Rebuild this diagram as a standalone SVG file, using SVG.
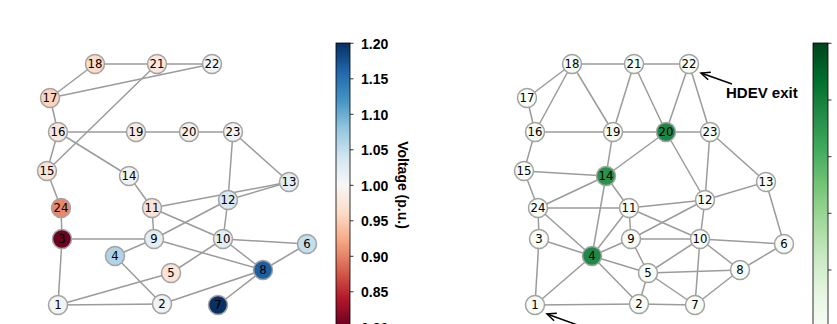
<svg xmlns="http://www.w3.org/2000/svg" width="837" height="324" viewBox="0 0 837 324">
<style>
.e{stroke:#9b9b9b;stroke-width:1.5;fill:none}
.n circle{stroke:#a3a3a3;stroke-width:1.5}
.n text{font-family:"DejaVu Sans",sans-serif;font-size:11.7px;text-anchor:middle;fill:#000}
.g circle{fill:#f7fcf5}
.tk{stroke:#000;stroke-width:0.8}
.tl{font-family:"Liberation Sans",Arial,sans-serif;font-weight:bold;font-size:14px;fill:#000}
.an{font-family:"Liberation Sans",Arial,sans-serif;font-weight:bold;font-size:15px;fill:#000}
.ar{stroke:#000;stroke-width:1.5;fill:none}
</style>
<defs>
<linearGradient id="rdbu" x1="0" y1="1" x2="0" y2="0">
<stop offset="0" stop-color="#67001f"/><stop offset="0.1" stop-color="#b2182b"/><stop offset="0.2" stop-color="#d6604d"/><stop offset="0.3" stop-color="#f4a582"/><stop offset="0.4" stop-color="#fddbc7"/><stop offset="0.5" stop-color="#f7f7f7"/><stop offset="0.6" stop-color="#d1e5f0"/><stop offset="0.7" stop-color="#92c5de"/><stop offset="0.8" stop-color="#4393c3"/><stop offset="0.9" stop-color="#2166ac"/><stop offset="1" stop-color="#053061"/>
</linearGradient>
<linearGradient id="greens" x1="0" y1="1" x2="0" y2="0">
<stop offset="0" stop-color="#f7fcf5"/><stop offset="0.125" stop-color="#e5f5e0"/><stop offset="0.25" stop-color="#c7e9c0"/><stop offset="0.375" stop-color="#a1d99b"/><stop offset="0.5" stop-color="#74c476"/><stop offset="0.625" stop-color="#41ab5d"/><stop offset="0.75" stop-color="#238b45"/><stop offset="0.875" stop-color="#006d2c"/><stop offset="1" stop-color="#00441b"/>
</linearGradient>
<marker id="ah" markerWidth="12" markerHeight="12" refX="0" refY="0" viewBox="-10 -6 12 12" orient="auto" markerUnits="userSpaceOnUse">
<path d="M-9,-4 L0,0 L-9,4" fill="none" stroke="#000" stroke-width="1.5"/>
</marker>
</defs>
<rect width="837" height="324" fill="#fff"/>

<!-- Left panel: voltage -->
<g id="left-edges">
<line class="e" x1="95" y1="64" x2="157" y2="64"/>
<line class="e" x1="157" y1="64" x2="212" y2="64"/>
<line class="e" x1="95" y1="64" x2="50" y2="98"/>
<line class="e" x1="50" y1="98" x2="212" y2="64"/>
<line class="e" x1="50" y1="98" x2="58" y2="132"/>
<line class="e" x1="157" y1="64" x2="47" y2="171"/>
<line class="e" x1="58" y1="132" x2="136" y2="132"/>
<line class="e" x1="136" y1="132" x2="189" y2="132"/>
<line class="e" x1="189" y1="132" x2="233" y2="132"/>
<line class="e" x1="58" y1="132" x2="47" y2="171"/>
<line class="e" x1="58" y1="132" x2="129" y2="176"/>
<line class="e" x1="233" y1="132" x2="228" y2="200"/>
<line class="e" x1="233" y1="132" x2="289" y2="182"/>
<line class="e" x1="47" y1="171" x2="61" y2="208"/>
<line class="e" x1="61" y1="208" x2="62" y2="239"/>
<line class="e" x1="129" y1="176" x2="152" y2="208"/>
<line class="e" x1="152" y1="208" x2="289" y2="182"/>
<line class="e" x1="228" y1="200" x2="289" y2="182"/>
<line class="e" x1="152" y1="208" x2="154" y2="239"/>
<line class="e" x1="152" y1="208" x2="223" y2="239"/>
<line class="e" x1="228" y1="200" x2="223" y2="239"/>
<line class="e" x1="228" y1="200" x2="154" y2="239"/>
<line class="e" x1="62" y1="239" x2="154" y2="239"/>
<line class="e" x1="154" y1="239" x2="115" y2="256"/>
<line class="e" x1="154" y1="239" x2="263" y2="270"/>
<line class="e" x1="223" y1="239" x2="307" y2="244"/>
<line class="e" x1="223" y1="239" x2="263" y2="270"/>
<line class="e" x1="223" y1="239" x2="171" y2="273"/>
<line class="e" x1="307" y1="244" x2="263" y2="270"/>
<line class="e" x1="115" y1="256" x2="162" y2="304"/>
<line class="e" x1="58" y1="305" x2="62" y2="239"/>
<line class="e" x1="58" y1="305" x2="171" y2="273"/>
<line class="e" x1="58" y1="305" x2="162" y2="304"/>
<line class="e" x1="162" y1="304" x2="263" y2="270"/>
<line class="e" x1="263" y1="270" x2="218" y2="305"/>
</g>
<g id="L1" class="n"><circle cx="58" cy="305" r="9.5" fill="#f4f4f4"/><text x="58" y="309.2">1</text></g>
<g id="L2" class="n"><circle cx="162" cy="304" r="9.5" fill="#f0f2f3"/><text x="162" y="308.2">2</text></g>
<g id="L3" class="n"><circle cx="62" cy="239" r="9.5" fill="#6a0220"/><text x="62" y="243.2">3</text></g>
<g id="L4" class="n"><circle cx="115" cy="256" r="9.5" fill="#b0d3e6"/><text x="115" y="260.2">4</text></g>
<g id="L5" class="n"><circle cx="171" cy="273" r="9.5" fill="#fae4d8"/><text x="171" y="277.2">5</text></g>
<g id="L6" class="n"><circle cx="307" cy="244" r="9.5" fill="#c4dfec"/><text x="307" y="248.2">6</text></g>
<g id="L7" class="n"><circle cx="218" cy="305" r="9.5" fill="#092f63"/><text x="218" y="309.2">7</text></g>
<g id="L8" class="n"><circle cx="263" cy="270" r="9.5" fill="#1d5fa3"/><text x="263" y="274.2">8</text></g>
<g id="L9" class="n"><circle cx="154" cy="239" r="9.5" fill="#e4edf3"/><text x="154" y="243.2">9</text></g>
<g id="L10" class="n"><circle cx="223" cy="239" r="9.5" fill="#e2ecf3"/><text x="223" y="243.2">10</text></g>
<g id="L11" class="n"><circle cx="152" cy="208" r="9.5" fill="#fae2d6"/><text x="152" y="212.2">11</text></g>
<g id="L12" class="n"><circle cx="228" cy="200" r="9.5" fill="#d9e8f1"/><text x="228" y="204.2">12</text></g>
<g id="L13" class="n"><circle cx="289" cy="182" r="9.5" fill="#e4edf3"/><text x="289" y="186.2">13</text></g>
<g id="L14" class="n"><circle cx="129" cy="176" r="9.5" fill="#f1f2f3"/><text x="129" y="180.2">14</text></g>
<g id="L15" class="n"><circle cx="47" cy="171" r="9.5" fill="#fae3d8"/><text x="47" y="175.2">15</text></g>
<g id="L16" class="n"><circle cx="58" cy="132" r="9.5" fill="#f9e7dd"/><text x="58" y="136.2">16</text></g>
<g id="L17" class="n"><circle cx="50" cy="98" r="9.5" fill="#fbd4bd"/><text x="50" y="102.2">17</text></g>
<g id="L18" class="n"><circle cx="95" cy="64" r="9.5" fill="#fcdcc8"/><text x="95" y="68.2">18</text></g>
<g id="L19" class="n"><circle cx="136" cy="132" r="9.5" fill="#f8ece6"/><text x="136" y="136.2">19</text></g>
<g id="L20" class="n"><circle cx="189" cy="132" r="9.5" fill="#f6f0ed"/><text x="189" y="136.2">20</text></g>
<g id="L21" class="n"><circle cx="157" cy="64" r="9.5" fill="#fae8de"/><text x="157" y="68.2">21</text></g>
<g id="L22" class="n"><circle cx="212" cy="64" r="9.5" fill="#f3f3f3"/><text x="212" y="68.2">22</text></g>
<g id="L23" class="n"><circle cx="233" cy="132" r="9.5" fill="#f2f3f4"/><text x="233" y="136.2">23</text></g>
<g id="L24" class="n"><circle cx="61" cy="208" r="9.5" fill="#e8876b"/><text x="61" y="212.2">24</text></g>

<!-- Left colorbar -->
<g id="colorbar-left">
<rect x="336" y="43" width="14" height="284" fill="url(#rdbu)" stroke="#000" stroke-width="0.8"/>
<line class="tk" x1="350" y1="43.3" x2="353.5" y2="43.3"/>
<line class="tk" x1="350" y1="78.8" x2="353.5" y2="78.8"/>
<line class="tk" x1="350" y1="114.3" x2="353.5" y2="114.3"/>
<line class="tk" x1="350" y1="149.8" x2="353.5" y2="149.8"/>
<line class="tk" x1="350" y1="185.3" x2="353.5" y2="185.3"/>
<line class="tk" x1="350" y1="220.8" x2="353.5" y2="220.8"/>
<line class="tk" x1="350" y1="256.3" x2="353.5" y2="256.3"/>
<line class="tk" x1="350" y1="291.8" x2="353.5" y2="291.8"/>
<text class="tl" x="361" y="48.5">1.20</text>
<text class="tl" x="361" y="84">1.15</text>
<text class="tl" x="361" y="119.5">1.10</text>
<text class="tl" x="361" y="155">1.05</text>
<text class="tl" x="361" y="190.5">1.00</text>
<text class="tl" x="361" y="226">0.95</text>
<text class="tl" x="361" y="261.5">0.90</text>
<text class="tl" x="361" y="297">0.85</text>
<text class="tl" x="361" y="332.5">0.80</text>
<text class="tl" transform="translate(398,185) rotate(90)" text-anchor="middle">Voltage (p.u.)</text>
</g>

<!-- Right panel -->
<g transform="translate(477,0)">
<g id="right-edges">
<line class="e" x1="95" y1="64" x2="157" y2="64"/>
<line class="e" x1="157" y1="64" x2="212" y2="64"/>
<line class="e" x1="95" y1="64" x2="50" y2="98"/>
<line class="e" x1="95" y1="64" x2="58" y2="132"/>
<line class="e" x1="95" y1="64" x2="136" y2="132"/>
<line class="e" x1="50" y1="98" x2="58" y2="132"/>
<line class="e" x1="157" y1="64" x2="136" y2="132"/>
<line class="e" x1="157" y1="64" x2="189" y2="132"/>
<line class="e" x1="212" y1="64" x2="189" y2="132"/>
<line class="e" x1="212" y1="64" x2="233" y2="132"/>
<line class="e" x1="58" y1="132" x2="136" y2="132"/>
<line class="e" x1="136" y1="132" x2="189" y2="132"/>
<line class="e" x1="189" y1="132" x2="233" y2="132"/>
<line class="e" x1="58" y1="132" x2="47" y2="171"/>
<line class="e" x1="136" y1="132" x2="129" y2="176"/>
<line class="e" x1="189" y1="132" x2="129" y2="176"/>
<line class="e" x1="189" y1="132" x2="228" y2="200"/>
<line class="e" x1="233" y1="132" x2="228" y2="200"/>
<line class="e" x1="233" y1="132" x2="289" y2="182"/>
<line class="e" x1="47" y1="171" x2="129" y2="176"/>
<line class="e" x1="47" y1="171" x2="61" y2="208"/>
<line class="e" x1="129" y1="176" x2="61" y2="208"/>
<line class="e" x1="129" y1="176" x2="115" y2="256"/>
<line class="e" x1="129" y1="176" x2="152" y2="208"/>
<line class="e" x1="61" y1="208" x2="152" y2="208"/>
<line class="e" x1="61" y1="208" x2="62" y2="239"/>
<line class="e" x1="61" y1="208" x2="115" y2="256"/>
<line class="e" x1="152" y1="208" x2="228" y2="200"/>
<line class="e" x1="228" y1="200" x2="289" y2="182"/>
<line class="e" x1="152" y1="208" x2="154" y2="239"/>
<line class="e" x1="152" y1="208" x2="223" y2="239"/>
<line class="e" x1="152" y1="208" x2="115" y2="256"/>
<line class="e" x1="228" y1="200" x2="154" y2="239"/>
<line class="e" x1="228" y1="200" x2="223" y2="239"/>
<line class="e" x1="289" y1="182" x2="307" y2="244"/>
<line class="e" x1="62" y1="239" x2="115" y2="256"/>
<line class="e" x1="62" y1="239" x2="58" y2="305"/>
<line class="e" x1="154" y1="239" x2="223" y2="239"/>
<line class="e" x1="154" y1="239" x2="115" y2="256"/>
<line class="e" x1="154" y1="239" x2="171" y2="273"/>
<line class="e" x1="223" y1="239" x2="307" y2="244"/>
<line class="e" x1="223" y1="239" x2="171" y2="273"/>
<line class="e" x1="223" y1="239" x2="263" y2="270"/>
<line class="e" x1="223" y1="239" x2="218" y2="305"/>
<line class="e" x1="115" y1="256" x2="171" y2="273"/>
<line class="e" x1="115" y1="256" x2="58" y2="305"/>
<line class="e" x1="115" y1="256" x2="162" y2="304"/>
<line class="e" x1="171" y1="273" x2="263" y2="270"/>
<line class="e" x1="171" y1="273" x2="162" y2="304"/>
<line class="e" x1="171" y1="273" x2="218" y2="305"/>
<line class="e" x1="263" y1="270" x2="307" y2="244"/>
<line class="e" x1="263" y1="270" x2="218" y2="305"/>
<line class="e" x1="58" y1="305" x2="162" y2="304"/>
<line class="e" x1="162" y1="304" x2="218" y2="305"/>
</g>
<g id="R1" class="n g"><circle cx="58" cy="305" r="9.5"/><text x="58" y="309.2">1</text></g>
<g id="R2" class="n g"><circle cx="162" cy="304" r="9.5"/><text x="162" y="308.2">2</text></g>
<g id="R3" class="n g"><circle cx="62" cy="239" r="9.5"/><text x="62" y="243.2">3</text></g>
<g id="R4" class="n"><circle cx="115" cy="256" r="9.5" fill="#1f8846"/><text x="115" y="260.2">4</text></g>
<g id="R5" class="n g"><circle cx="171" cy="273" r="9.5"/><text x="171" y="277.2">5</text></g>
<g id="R6" class="n g"><circle cx="307" cy="244" r="9.5"/><text x="307" y="248.2">6</text></g>
<g id="R7" class="n g"><circle cx="218" cy="305" r="9.5"/><text x="218" y="309.2">7</text></g>
<g id="R8" class="n g"><circle cx="263" cy="270" r="9.5"/><text x="263" y="274.2">8</text></g>
<g id="R9" class="n g"><circle cx="154" cy="239" r="9.5"/><text x="154" y="243.2">9</text></g>
<g id="R10" class="n g"><circle cx="223" cy="239" r="9.5"/><text x="223" y="243.2">10</text></g>
<g id="R11" class="n g"><circle cx="152" cy="208" r="9.5"/><text x="152" y="212.2">11</text></g>
<g id="R12" class="n g"><circle cx="228" cy="200" r="9.5"/><text x="228" y="204.2">12</text></g>
<g id="R13" class="n g"><circle cx="289" cy="182" r="9.5"/><text x="289" y="186.2">13</text></g>
<g id="R14" class="n"><circle cx="129" cy="176" r="9.5" fill="#2c914a"/><text x="129" y="180.2">14</text></g>
<g id="R15" class="n g"><circle cx="47" cy="171" r="9.5"/><text x="47" y="175.2">15</text></g>
<g id="R16" class="n g"><circle cx="58" cy="132" r="9.5"/><text x="58" y="136.2">16</text></g>
<g id="R17" class="n g"><circle cx="50" cy="98" r="9.5"/><text x="50" y="102.2">17</text></g>
<g id="R18" class="n g"><circle cx="95" cy="64" r="9.5"/><text x="95" y="68.2">18</text></g>
<g id="R19" class="n g"><circle cx="136" cy="132" r="9.5"/><text x="136" y="136.2">19</text></g>
<g id="R20" class="n"><circle cx="189" cy="132" r="9.5" fill="#1b8645"/><text x="189" y="136.2">20</text></g>
<g id="R21" class="n g"><circle cx="157" cy="64" r="9.5"/><text x="157" y="68.2">21</text></g>
<g id="R22" class="n g"><circle cx="212" cy="64" r="9.5"/><text x="212" y="68.2">22</text></g>
<g id="R23" class="n g"><circle cx="233" cy="132" r="9.5"/><text x="233" y="136.2">23</text></g>
<g id="R24" class="n g"><circle cx="61" cy="208" r="9.5"/><text x="61" y="212.2">24</text></g>
</g>

<g id="annotations">
<line class="ar" x1="732" y1="84" x2="701" y2="73" marker-end="url(#ah)"/>
<text class="an" x="726" y="98">HDEV exit</text>
<line class="ar" x1="583" y1="327" x2="547" y2="314" marker-end="url(#ah)"/>
</g>

<g id="colorbar-right">
<rect x="813" y="43" width="15" height="284" fill="url(#greens)" stroke="#000" stroke-width="0.8"/>
<line class="tk" x1="828" y1="43.3" x2="831.5" y2="43.3"/>
<line class="tk" x1="828" y1="100" x2="831.5" y2="100"/>
<line class="tk" x1="828" y1="156.7" x2="831.5" y2="156.7"/>
<line class="tk" x1="828" y1="213.3" x2="831.5" y2="213.3"/>
<line class="tk" x1="828" y1="270" x2="831.5" y2="270"/>
</g>
</svg>
